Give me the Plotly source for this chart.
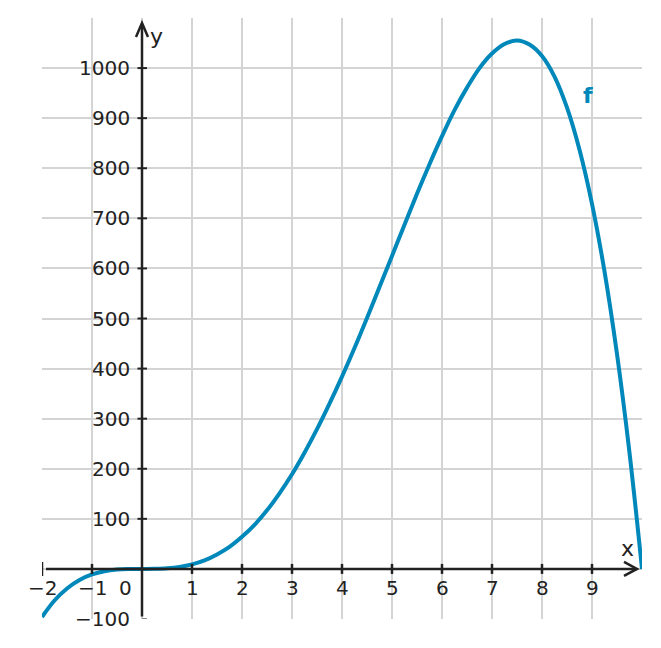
import plotly.graph_objects as go

# Data
x_vals = [-2, -1.75, -1.5, -1.25, -1, -0.75, -0.5, -0.25, 0, 0.25, 0.5, 0.75,
          1, 1.25, 1.5, 1.75, 2, 2.25, 2.5, 2.75, 3, 3.25, 3.5, 3.75,
          4, 4.25, 4.5, 4.75, 5, 5.25, 5.5, 5.75, 6, 6.25, 6.5, 6.75,
          7, 7.25, 7.5, 7.75, 8, 8.25, 8.5, 8.75, 9, 9.25, 9.5, 9.75, 10]
f_vals = [-96, -63, -39, -22, -11, -4.5, -1.3, -0.2, 0, 0.2, 1.2, 3.9,
          9, 17, 29, 44, 64, 88, 117, 151, 189, 232, 279, 330,
          384, 441, 501, 563, 625, 687, 749, 808, 864, 916, 961, 1000,
          1029, 1048, 1055, 1047, 1024, 983, 921, 837, 729, 594, 429, 232, 0]

x_ticks = [-2, -1, 1, 2, 3, 4, 5, 6, 7, 8, 9]
x_tick_labels = ["\u22122", "\u22121", "1", "2", "3", "4", "5", "6", "7", "8", "9"]
y_ticks = [-100, 100, 200, 300, 400, 500, 600, 700, 800, 900, 1000]
y_tick_labels = ["\u2212100", "100", "200", "300", "400", "500", "600", "700", "800", "900", "1000"]

BLUE = "#0088bb"
DARK = "#222222"
FONT = "DejaVu Sans"

fig = go.Figure()
fig.add_trace(go.Scatter(x=x_vals, y=f_vals, mode="lines",
                         line=dict(color=BLUE, width=4, shape="spline", smoothing=1.0),
                         hoverinfo="skip", showlegend=False))

shapes = []
# axes lines
shapes.append(dict(type="line", xref="x", yref="y", x0=-1.92, y0=0, x1=9.9, y1=0,
                   line=dict(color=DARK, width=2.5), layer="above"))
shapes.append(dict(type="line", xref="x", yref="y", x0=0, y0=-95, x1=0, y1=1088,
                   line=dict(color=DARK, width=2.5), layer="above"))
# arrow heads
shapes.append(dict(type="path", xref="x", yref="y",
                   path="M 9.64,14 L 9.9,0 L 9.64,-14",
                   line=dict(color=DARK, width=2.5), layer="above"))
shapes.append(dict(type="path", xref="x", yref="y",
                   path="M -0.12,1062 L 0,1090 L 0.12,1062",
                   line=dict(color=DARK, width=2.5), layer="above"))
# x ticks
for t in x_ticks:
    h = 14 if t == -2 else 10
    shapes.append(dict(type="line", xref="x", yref="y", x0=t, x1=t, y0=-h, y1=h,
                       line=dict(color=DARK, width=2.5), layer="above"))
# y ticks
for t in y_ticks:
    x0 = 0.0 if t == -100 else -0.09
    shapes.append(dict(type="line", xref="x", yref="y", x0=x0, x1=0.1, y0=t, y1=t,
                       line=dict(color=DARK if t != -100 else "#888888", width=2), layer="above"))

annotations = []
for t, lab in zip(x_ticks, x_tick_labels):
    annotations.append(dict(x=t, y=-38, xref="x", yref="y", text=lab, showarrow=False,
                            font=dict(family=FONT, size=20, color=DARK)))
annotations.append(dict(x=-0.34, y=-38, xref="x", yref="y", text="0", showarrow=False,
                        font=dict(family=FONT, size=20, color=DARK)))
for t, lab in zip(y_ticks, y_tick_labels):
    annotations.append(dict(x=-0.2, y=t, xref="x", yref="y", text=lab, showarrow=False,
                            xanchor="right", font=dict(family=FONT, size=20, color=DARK)))
annotations.append(dict(x=9.7, y=40, xref="x", yref="y", text="x", showarrow=False,
                        font=dict(family=FONT, size=22, color=DARK)))
annotations.append(dict(x=0.28, y=1064, xref="x", yref="y", text="y", showarrow=False,
                        font=dict(family=FONT, size=22, color=DARK)))
annotations.append(dict(x=8.92, y=946, xref="x", yref="y", text="<b>f</b>", showarrow=False,
                        font=dict(family=FONT, size=22, color=BLUE)))

fig.update_layout(
    width=653, height=640,
    margin=dict(l=34, r=19, t=10, b=29),
    paper_bgcolor="white", plot_bgcolor="white",
    shapes=shapes, annotations=annotations,
    xaxis=dict(range=[-2, 10], dtick=1, tick0=0, showgrid=True, gridcolor="#d4d4d4",
               gridwidth=1.5, zeroline=False, showline=False, showticklabels=False,
               ticks="", fixedrange=True),
    yaxis=dict(range=[-100, 1100], dtick=100, tick0=0, showgrid=True, gridcolor="#d4d4d4",
               gridwidth=1.5, zeroline=False, showline=False, showticklabels=False,
               ticks="", fixedrange=True),
)
fig.write_html("out.html", config={"displayModeBar": False})
